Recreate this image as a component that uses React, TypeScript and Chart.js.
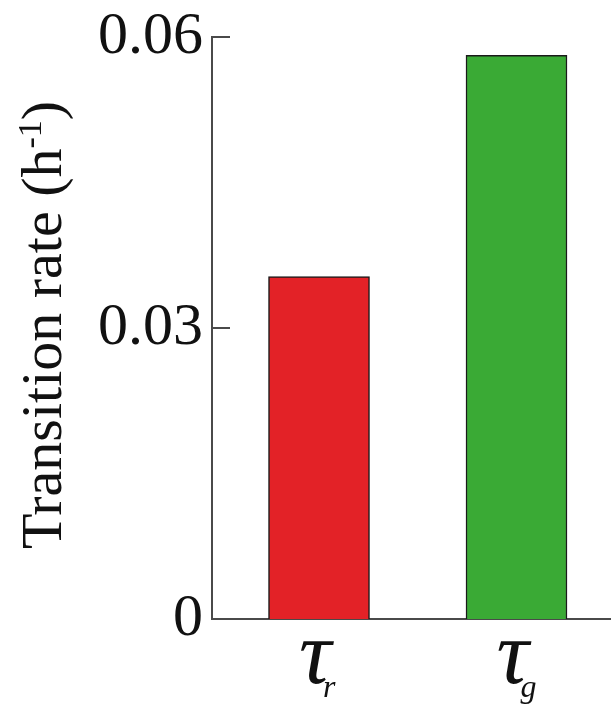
import React, { useEffect, useRef } from "react";
import { Chart, registerables } from "chart.js";

Chart.register(...registerables);

const categorySymbols = ["τ", "τ"];
const categorySubscripts = ["r", "g"];
const rateValues = [0.0353, 0.0581];
const barColors = ["#e32227", "#3aaa35"];
const yTickValues = [0, 0.03, 0.06];
const yTickLabels = ["0", "0.03", "0.06"];
const yTitleMain = "Transition rate (h";
const yTitleSup = "-1";
const yTitleEnd = ")";

const SERIF = '"Liberation Serif", "Times New Roman", serif';

const decorPlugin = {
  id: "decor",
  afterDraw(chart: any) {
    const ctx = chart.ctx;
    const area = chart.chartArea;
    const ys = chart.scales.y;
    const xs = chart.scales.x;
    ctx.save();
    // inward ticks
    ctx.strokeStyle = "#4a4a4a";
    ctx.lineWidth = 2;
    yTickValues.forEach((v) => {
      if (v === 0) return;
      const py = Math.round(ys.getPixelForValue(v));
      ctx.beginPath();
      ctx.moveTo(area.left, py);
      ctx.lineTo(area.left + 18, py);
      ctx.stroke();
    });
    // category labels
    ctx.fillStyle = "#111";
    categorySymbols.forEach((s, i) => {
      const cx = xs.getPixelForValue(i + 1);
      ctx.font = `italic 90px ${SERIF}`;
      ctx.textAlign = "center";
      ctx.textBaseline = "alphabetic";
      ctx.fillText(s, cx - 4, 683);
      ctx.font = `italic 32px ${SERIF}`;
      ctx.textAlign = "left";
      ctx.fillText(categorySubscripts[i], cx + 4, 697);
    });
    // y axis title
    ctx.translate(61, 325);
    ctx.rotate(-Math.PI / 2);
    ctx.textAlign = "left";
    ctx.textBaseline = "alphabetic";
    const mainFont = `58px ${SERIF}`;
    const supFont = `34px ${SERIF}`;
    ctx.font = mainFont;
    const w1 = ctx.measureText(yTitleMain).width;
    const w3 = ctx.measureText(yTitleEnd).width;
    ctx.font = supFont;
    const w2 = ctx.measureText(yTitleSup).width;
    const total = w1 + w2 + w3;
    let x0 = -total / 2;
    ctx.font = mainFont;
    ctx.fillText(yTitleMain, x0, 0);
    x0 += w1;
    ctx.font = supFont;
    ctx.fillText(yTitleSup, x0, -20);
    x0 += w2;
    ctx.font = mainFont;
    ctx.fillText(yTitleEnd, x0, 0);
    ctx.restore();
  },
};

export default function App() {
  const canvasRef = useRef<HTMLCanvasElement | null>(null);

  useEffect(() => {
    const canvas = canvasRef.current;
    if (!canvas) return;
    const chart = new Chart(canvas, {
      type: "bar",
      data: {
        datasets: [
          {
            data: rateValues.map((v, i) => ({ x: i + 1, y: v })),
            backgroundColor: barColors,
            borderColor: "#1a1a1a",
            borderWidth: 1.5,
            barThickness: 101,
          },
        ],
      },
      options: {
        responsive: false,
        animation: false,
        events: [],
        layout: { padding: { top: 37, left: 0, right: 0, bottom: 0 } },
        plugins: {
          legend: { display: false },
          tooltip: { enabled: false },
          title: { display: false },
        },
        scales: {
          x: {
            type: "linear",
            offset: false,
            min: 0.4582,
            max: 2.4785,
            grid: { display: false, drawTicks: false },
            border: { display: true, color: "#4a4a4a", width: 2 },
            ticks: { display: false },
            afterFit: (scale: any) => {
              scale.height = 86;
              scale.paddingLeft = 0;
              scale.paddingRight = 0;
            },
          },
          y: {
            min: 0,
            max: 0.06,
            grid: { display: false, drawTicks: false },
            border: { display: true, color: "#4a4a4a", width: 2 },
            afterBuildTicks: (scale: any) => {
              scale.ticks = yTickValues.map((v) => ({ value: v }));
            },
            ticks: {
              padding: 9,
              color: "#111",
              font: { family: SERIF, size: 60 },
              callback: (value: any) => {
                const idx = yTickValues.findIndex((t) => Math.abs(t - Number(value)) < 1e-9);
                return idx >= 0 ? yTickLabels[idx] : "";
              },
            },
            afterFit: (scale: any) => {
              scale.width = 212;
              scale.paddingTop = 0;
              scale.paddingBottom = 0;
            },
          },
        },
      },
      plugins: [decorPlugin],
    });
    return () => chart.destroy();
  }, []);

  return (
    <div style={{ position: "absolute", left: 0, top: 0, width: 611, height: 705, background: "#fff" }}>
      <canvas ref={canvasRef} width={611} height={705} />
    </div>
  );
}
